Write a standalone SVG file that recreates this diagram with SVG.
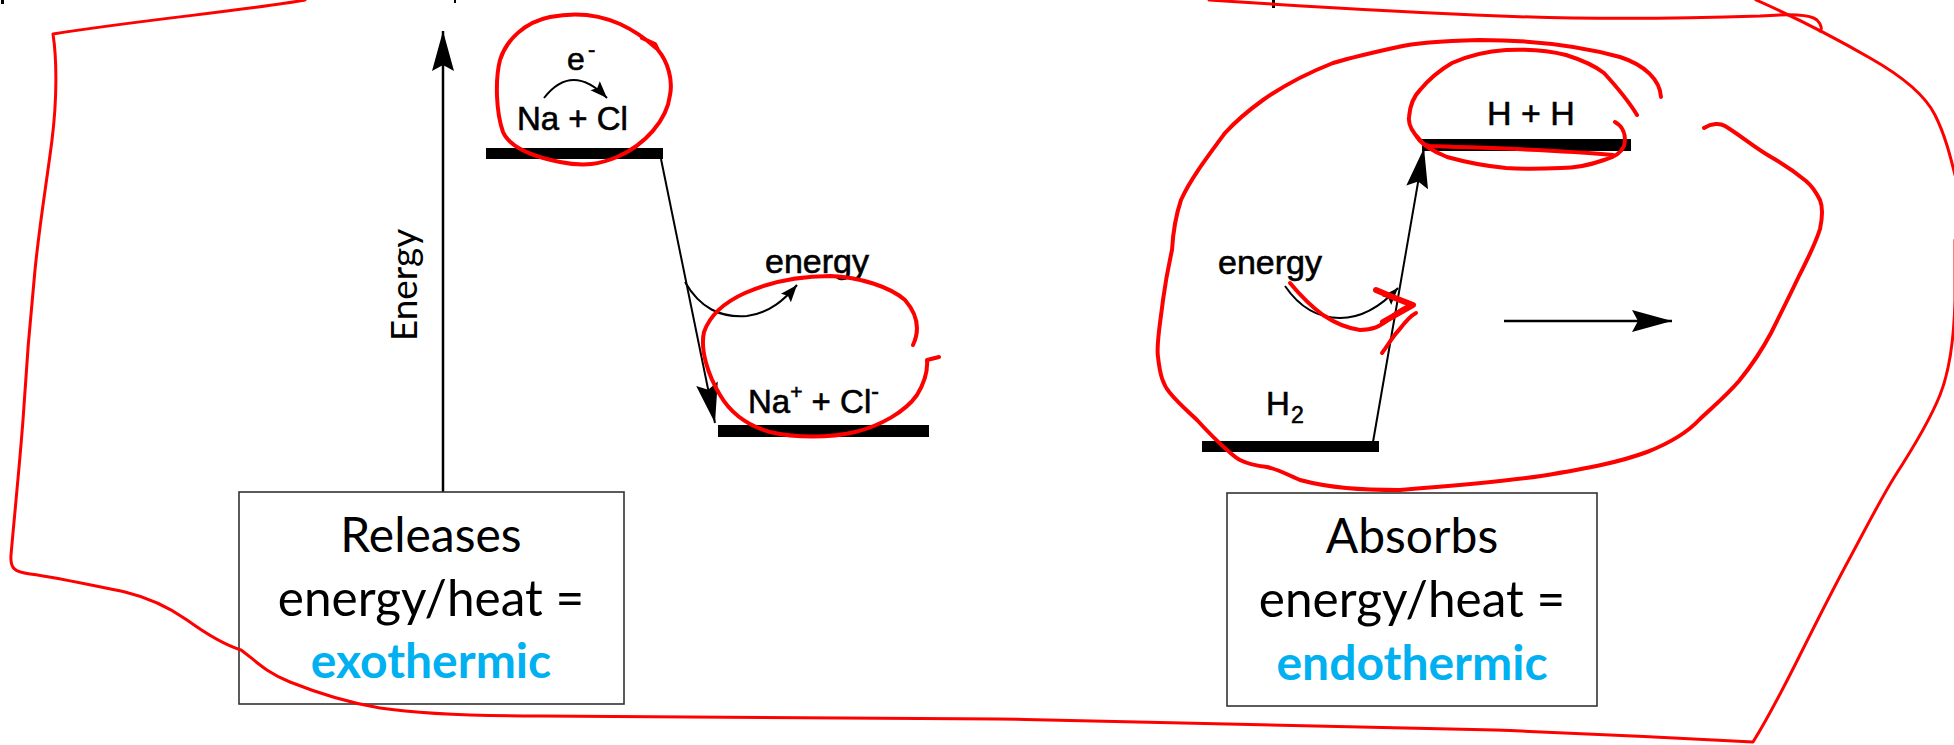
<svg xmlns="http://www.w3.org/2000/svg" width="1954" height="745" viewBox="0 0 1954 745">
<style>
.bar{fill:#000}
.lbl{font-family:"Comic Sans MS","Liberation Sans",sans-serif;fill:#000;stroke:#000;stroke-width:0.6}
.box{fill:#fff;stroke:#333;stroke-width:1.6}
.bt{font-family:Lato,"Open Sans",sans-serif;font-size:48px;fill:#000;text-anchor:middle}
.wide{font-size:49.5px}
.hl{fill:#00B0F0;font-weight:bold}
.ln{fill:none;stroke:#000;stroke-width:2.5}
.arc{fill:none;stroke:#000;stroke-width:2}
.red{fill:none;stroke:#FF0000;stroke-width:4;stroke-linecap:round;stroke-linejoin:round}
.redt{fill:none;stroke:#FF0000;stroke-width:3;stroke-linecap:round;stroke-linejoin:round}
</style>
<defs>
<marker id="big" markerUnits="userSpaceOnUse" viewBox="0 0 44 24" markerWidth="44" markerHeight="24" refX="42" refY="12" orient="auto">
<path d="M2,1 L42,12 L2,23 L8,12 Z" fill="#000"/>
</marker>
<marker id="small" markerUnits="userSpaceOnUse" viewBox="0 0 20 14" markerWidth="20" markerHeight="14" refX="18" refY="7" orient="auto">
<path d="M1,0.5 L18,7 L1,13.5 L4,7 Z" fill="#000"/>
</marker>
</defs>
<rect width="1954" height="745" fill="#fff"/>

<g id="top-fragments">
<rect x="1" y="0" width="3" height="4" fill="#000"/>
<rect x="454" y="0" width="2" height="3" fill="#000"/>
<rect x="1272" y="0" width="3" height="8" fill="#000"/>
</g>

<g id="connectors">
<line class="ln" x1="443" y1="504" x2="443" y2="31" marker-end="url(#big)"/>
<line class="arc" x1="661" y1="159" x2="715" y2="423" marker-end="url(#big)"/>
<line class="arc" x1="1373" y1="442" x2="1424" y2="148" marker-end="url(#big)"/>
<line class="ln" x1="1504" y1="321" x2="1672" y2="321" marker-end="url(#big)"/>
<path class="arc" d="M544,98 Q572,62 607,98" marker-end="url(#small)"/>
<path class="arc" d="M685,282 C700,308 720,318 747,316 C770,313 785,299 797,285" marker-end="url(#small)"/>
<path class="arc" d="M1285,286 C1300,308 1318,318 1340,318 C1365,318 1385,302 1398,288" marker-end="url(#small)"/>
</g>

<g id="axis-label">
<text class="bt" transform="translate(417,285) rotate(-90)" x="0" y="0" style="font-size:37px">Energy</text>
</g>

<g id="reactants-nacl">
<rect class="bar" x="486" y="148" width="177" height="11"/>
<text class="lbl" x="517" y="130" font-size="33">Na + Cl</text>
<text class="lbl" x="567" y="70" font-size="32">e</text>
<text class="lbl" x="588" y="57" font-size="22">-</text>
</g>

<g id="products-nacl">
<rect class="bar" x="718" y="425" width="211" height="12"/>
<text class="lbl" x="748" y="413" font-size="33">Na<tspan font-size="21" dy="-14">+</tspan><tspan dy="14"> + Cl</tspan><tspan font-size="23" dy="-14">-</tspan></text>
</g>

<g id="energy-released">
<text class="lbl" x="765" y="273" font-size="34">energy</text>
</g>

<g id="reactant-h2">
<rect class="bar" x="1202" y="441" width="177" height="11"/>
<text class="lbl" x="1266" y="415" font-size="33">H</text>
<text class="lbl" x="1291" y="423" font-size="23">2</text>
</g>

<g id="products-hh">
<rect class="bar" x="1422" y="139" width="209" height="12"/>
<text class="lbl" x="1487" y="125" font-size="34">H + H</text>
</g>

<g id="energy-absorbed">
<text class="lbl" x="1218" y="274" font-size="34">energy</text>
</g>

<g id="box-exothermic">
<rect class="box" x="239" y="492" width="385" height="212"/>
<text class="bt" x="431" y="552">Releases</text>
<text class="bt wide" x="431" y="616">energy/heat =</text>
<text class="bt hl" x="431" y="678">exothermic</text>
</g>

<g id="box-endothermic">
<rect class="box" x="1227" y="493" width="370" height="213"/>
<text class="bt" x="1412" y="553">Absorbs</text>
<text class="bt wide" x="1412" y="617">energy/heat =</text>
<text class="bt hl" x="1412" y="680">endothermic</text>
</g>

<g id="annotations">
<path class="redt" d="M305,0 C250,10 140,20 53,34 C57,60 57,100 52,140 C47,180 40,220 35,270 C30,320 26,370 23,420 C20,460 15,510 11,555 C10,568 14,572 30,574 C60,578 95,586 125,592 C150,598 170,608 187,620 C205,633 225,645 241,650 C255,660 265,672 290,682 C320,694 350,703 380,708 C420,714 470,716 540,716 L997,719 C1150,721 1300,727 1495,730 C1600,734 1680,738 1753,742 C1770,715 1785,685 1800,655 C1815,625 1830,595 1845,567 C1865,530 1880,500 1895,476 C1915,445 1930,420 1940,395 C1950,370 1954,340 1955,300 L1955,240"/>
<path class="redt" d="M1209,0 C1300,6 1400,12 1500,16 C1600,20 1700,18 1760,16 C1790,14 1810,14 1817,20 C1822,25 1822,30 1820,31"/>
<path class="redt" d="M1756,0 C1790,15 1830,35 1870,58 C1900,75 1925,95 1935,115 C1945,135 1950,155 1955,175"/>
<path class="red" d="M642,38 L655,44 L658,50 C668,62 673,80 670,95 C667,120 645,145 617,157 C600,164 585,167 560,162 C535,157 510,148 503,132 C496,112 495,80 500,60 C506,40 525,22 550,17 C575,12 600,15 620,24 C635,31 645,38 656,48"/>
<path class="red" d="M913,345 C920,330 918,315 905,300 C890,287 860,277 830,276 C800,276 770,282 745,293 C725,302 710,315 704,332 C700,350 708,375 720,395 C730,412 745,425 770,432 C795,438 830,438 855,432 C880,426 905,412 917,395 C925,382 928,372 927,360 L939,357"/>
<path class="red" d="M1661,97 C1660,80 1645,65 1620,57 C1580,46 1530,40 1479,40 C1440,41 1410,44 1398,47 C1375,52 1350,58 1333,63 C1300,76 1280,88 1263,100 C1245,113 1235,122 1225,133 C1205,160 1190,180 1181,200 C1176,215 1173,232 1172,250 C1168,268 1165,285 1163,300 C1160,325 1156,345 1158,357 C1160,375 1163,385 1170,393 C1180,405 1190,413 1197,420 C1208,432 1218,442 1227,450 C1233,455 1236,458 1240,460 C1250,465 1258,466 1267,467 C1280,470 1290,476 1300,480 C1330,488 1360,490 1400,490 C1450,486 1500,482 1541,476 C1590,468 1620,462 1647,452 C1670,443 1688,432 1700,419 C1715,405 1727,395 1739,381 C1752,365 1762,350 1771,333 C1780,315 1790,295 1799,276 C1808,258 1815,245 1820,229 C1823,215 1822,205 1820,200 C1815,190 1812,186 1806,181 C1795,172 1785,165 1771,157 C1755,148 1740,135 1725,126 C1720,123 1712,123 1704,128"/>
<path class="red" d="M1615,122 C1622,126 1627,134 1624,146 C1620,155 1612,158 1604,160 C1590,165 1575,168 1561,168 C1540,169 1520,169 1506,168 C1485,166 1465,162 1447,157 C1435,152 1425,147 1420,140 C1412,132 1408,125 1409,117 C1410,105 1413,97 1420,90 C1430,78 1440,70 1452,63 C1470,55 1490,51 1506,50 C1530,49 1550,51 1566,55 C1582,60 1595,66 1604,73 C1615,85 1628,100 1637,115"/>
<path class="red" d="M1417,137 C1420,142 1423,145 1430,146 C1480,148 1550,149 1613,155"/>
<path class="red" d="M1290,283 C1300,295 1312,307 1323,315 C1335,323 1345,328 1360,330 C1372,330 1380,327 1390,318 C1400,310 1405,307 1412,305"/>
<path class="red" style="stroke-width:6" d="M1376,290 L1395,298 L1413,305 L1383,322"/>
<path class="red" d="M1382,353 C1388,345 1393,336 1399,330 C1405,322 1410,316 1416,313"/>
</g>
</svg>
